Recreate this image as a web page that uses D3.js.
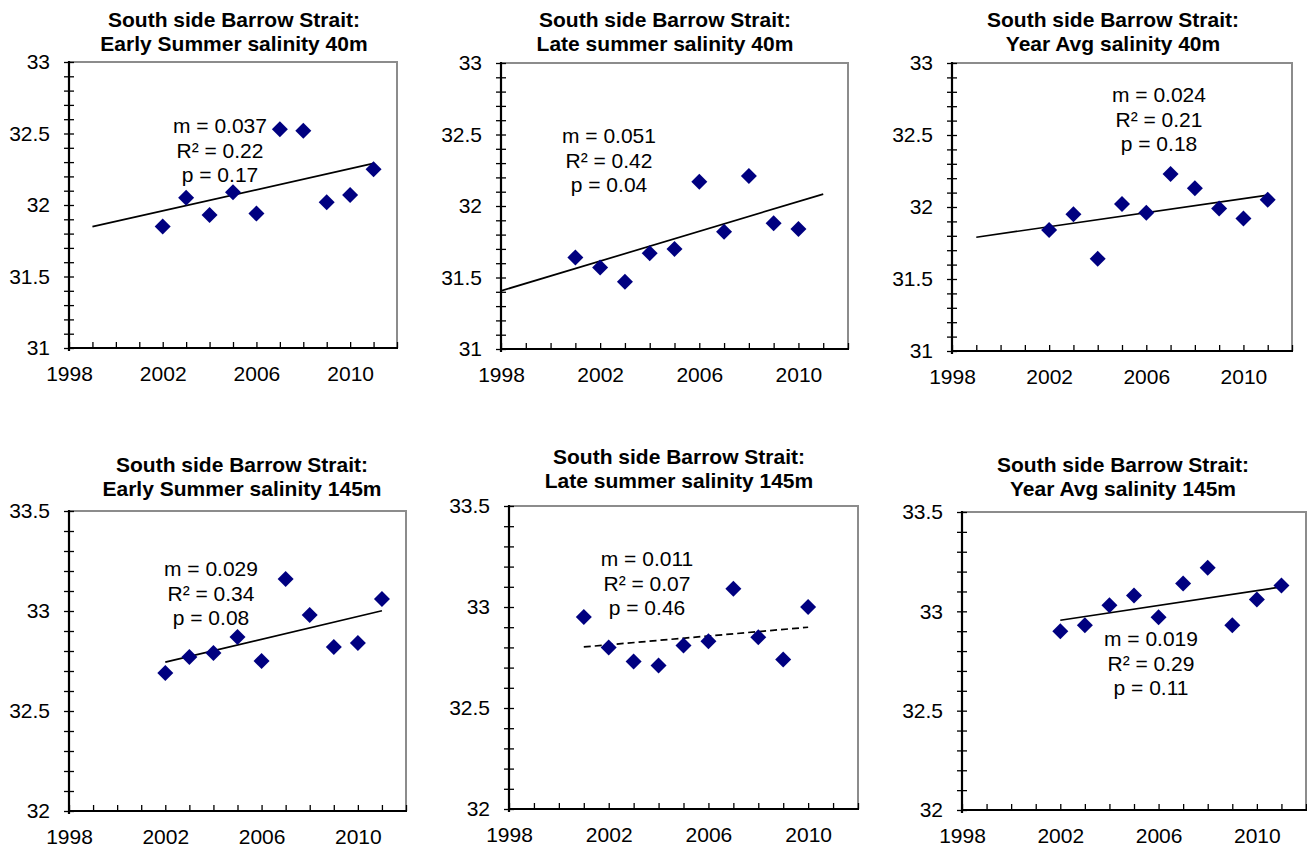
<!DOCTYPE html>
<html>
<head>
<meta charset="utf-8">
<script src="https://cdn.jsdelivr.net/npm/d3@7"></script>
<style>
  body { margin: 0; background: #fff; }
  svg { display: block; font-family: Arial, "Liberation Sans", sans-serif; }
</style>
</head>
<body>
<div id="chart"></div>
<script>
// data
const yearsA = [2002, 2003, 2004, 2005, 2006, 2007, 2008, 2009, 2010, 2011];
const yearsB = [2001, 2002, 2003, 2004, 2005, 2006, 2007, 2008, 2009, 2010];

const earlySummer40 = [31.85, 32.05, 31.93, 32.09, 31.94, 32.53, 32.52, 32.02, 32.07, 32.25];
const lateSummer40 = [31.64, 31.57, 31.47, 31.67, 31.70, 32.17, 31.82, 32.21, 31.88, 31.84];
const yearAvg40 = [31.84, 31.95, 31.64, 32.02, 31.96, 32.23, 32.13, 31.99, 31.92, 32.05];
const earlySummer145 = [32.69, 32.77, 32.79, 32.87, 32.75, 33.16, 32.98, 32.82, 32.84, 33.06];
const lateSummer145 = [32.95, 32.80, 32.73, 32.71, 32.81, 32.83, 33.09, 32.85, 32.74, 33.00];
const yearAvg145 = [32.90, 32.93, 33.03, 33.08, 32.97, 33.14, 33.22, 32.93, 33.06, 33.13];

// years over which each trend line is drawn
const trendSpans = [[1999, 2011], [1998, 2011], [1999, 2011], [2002, 2011], [2001, 2010], [2002, 2011]];

const titles = [
  ["South side Barrow Strait:", "Early Summer salinity 40m"],
  ["South side Barrow Strait:", "Late summer salinity 40m"],
  ["South side Barrow Strait:", "Year Avg salinity 40m"],
  ["South side Barrow Strait:", "Early Summer salinity 145m"],
  ["South side Barrow Strait:", "Late summer salinity 145m"],
  ["South side Barrow Strait:", "Year Avg salinity 145m"]
];
const statsText = [
  ["m = 0.037", "R² = 0.22", "p = 0.17"],
  ["m = 0.051", "R² = 0.42", "p = 0.04"],
  ["m = 0.024", "R² = 0.21", "p = 0.18"],
  ["m = 0.029", "R² = 0.34", "p = 0.08"],
  ["m = 0.011", "R² = 0.07", "p = 0.46"],
  ["m = 0.019", "R² = 0.29", "p = 0.11"]
];

const xDomain = [1998, 2012];
const xTicks = [1998, 2002, 2006, 2010];
const yDomain40 = [31, 33];
const yTicks40 = [31, 31.5, 32, 32.5, 33];
const yDomain145 = [32, 33.5];
const yTicks145 = [32, 32.5, 33, 33.5];

// panel boxes (left, top, right, bottom) + where the titles / stats sit
const panels = [
  { box: [69, 62, 397, 348], years: yearsA, vals: earlySummer40, yd: yDomain40, yt: yTicks40,
    titleX: 234, titleY: 27, statX: 220, statY: 133, dashed: false },
  { box: [501, 63, 848, 349], years: yearsB, vals: lateSummer40, yd: yDomain40, yt: yTicks40,
    titleX: 665, titleY: 27, statX: 609, statY: 143, dashed: false },
  { box: [952, 63, 1292, 351], years: yearsA, vals: yearAvg40, yd: yDomain40, yt: yTicks40,
    titleX: 1113, titleY: 27, statX: 1159, statY: 102, dashed: false },
  { box: [69, 511, 406, 811], years: yearsA, vals: earlySummer145, yd: yDomain145, yt: yTicks145,
    titleX: 242, titleY: 472, statX: 211, statY: 576, dashed: false },
  { box: [509, 506, 858, 809], years: yearsB, vals: lateSummer145, yd: yDomain145, yt: yTicks145,
    titleX: 679, titleY: 464, statX: 647, statY: 566, dashed: true },
  { box: [962, 512, 1306, 810], years: yearsA, vals: yearAvg145, yd: yDomain145, yt: yTicks145,
    titleX: 1123, titleY: 472, statX: 1151, statY: 646, dashed: false }
];

const svg = d3
  .select("#chart")
  .append("svg")
  .attr("width", 1307)
  .attr("height", 848);

svg.append("rect").attr("width", 1307).attr("height", 848).attr("fill", "#fff");

// least squares fit, used for the trend lines
function fit(xs, ys) {
  const mx = d3.mean(xs), my = d3.mean(ys);
  let sxy = 0, sxx = 0;
  xs.forEach(function (x, i) {
    sxy += (x - mx) * (ys[i] - my);
    sxx += (x - mx) * (x - mx);
  });
  const m = sxy / sxx;
  return function (x) { return my + m * (x - mx); };
}

function drawPanel(p, i) {
  const [l, t, r, b] = p.box;
  const x = d3.scaleLinear().domain(xDomain).range([l, r]);
  const y = d3.scaleLinear().domain(p.yd).range([b, t]);
  const g = svg.append("g");

  // grey frame top + right
  g.append("path")
    .attr("d", "M" + l + "," + t + "H" + r + "V" + b)
    .attr("fill", "none")
    .attr("stroke", "#8c8c8c")
    .attr("stroke-width", 2);

  // minor ticks y (cross the axis)
  const yMinor = d3.range(p.yd[0], p.yd[1] + 0.001, 0.1);
  g.append("g")
    .attr("transform", "translate(" + l + ",0)")
    .call(d3.axisLeft(y).tickValues(yMinor).tickFormat("").tickSizeOuter(0))
    .call(function (ax) {
      ax.select(".domain").remove();
      ax.selectAll(".tick line").attr("x1", 5).attr("x2", -5).attr("stroke-width", 1.3);
    });

  // minor ticks x (inside)
  const xMinor = d3.range(xDomain[0], xDomain[1] + 1, 1);
  g.append("g")
    .attr("transform", "translate(0," + b + ")")
    .call(d3.axisTop(x).tickValues(xMinor).tickFormat("").tickSize(6).tickSizeOuter(0))
    .call(function (ax) {
      ax.select(".domain").remove();
      ax.selectAll(".tick line").attr("stroke-width", 1.3);
    });

  // y axis labels
  g.append("g")
    .attr("transform", "translate(" + l + ",0)")
    .call(d3.axisLeft(y).tickValues(p.yt).tickSize(0).tickPadding(19).tickFormat(function (d) { return String(d); }))
    .call(function (ax) {
      ax.select(".domain").remove();
      ax.attr("font-family", null).attr("font-size", null);
      ax.selectAll("text").attr("font-size", 21).attr("fill", "#000");
    });

  // x axis labels
  g.append("g")
    .attr("transform", "translate(0," + b + ")")
    .call(d3.axisBottom(x).tickValues(xTicks).tickSize(0).tickPadding(18).tickFormat(d3.format("d")))
    .call(function (ax) {
      ax.select(".domain").remove();
      ax.attr("font-family", null).attr("font-size", null);
      ax.selectAll("text").attr("font-size", 21).attr("fill", "#000");
    });

  // black axis lines
  g.append("path")
    .attr("d", "M" + l + "," + (t - 1) + "V" + (b + 3) + "M" + (l - 1) + "," + b + "H" + (r + 1))
    .attr("fill", "none")
    .attr("stroke", "#000")
    .attr("stroke-width", 2.2);

  // title
  const title = g.append("text")
    .attr("text-anchor", "middle")
    .attr("font-weight", "bold")
    .attr("font-size", 21);
  titles[i].forEach(function (s, k) {
    title.append("tspan").attr("x", p.titleX).attr("y", p.titleY + k * 23.5).text(s);
  });

  // trend line
  const f = fit(p.years, p.vals);
  g.append("path")
    .datum(trendSpans[i])
    .attr("fill", "none")
    .attr("stroke", "#000")
    .attr("stroke-width", 1.7)
    .attr("stroke-dasharray", p.dashed ? "7,4" : null)
    .attr("d", d3.line().x(function (d) { return x(d); }).y(function (d) { return y(f(d)); }));

  // points
  g.selectAll(".pt")
    .data(p.vals)
    .enter()
    .append("path")
    .attr("class", "pt")
    .attr("d", d3.symbol(d3.symbolSquare, 128)())
    .attr("transform", function (d, k) {
      return "translate(" + x(p.years[k]) + "," + y(d) + ") rotate(45)";
    })
    .attr("fill", "#000080");

  // stats
  const st = g.append("text")
    .attr("text-anchor", "middle")
    .attr("font-size", 21)
    .attr("fill", "#000");
  statsText[i].forEach(function (s, k) {
    st.append("tspan").attr("x", p.statX).attr("y", p.statY + k * 24.5).text(s);
  });
}

panels.forEach(drawPanel);
</script>
</body>
</html>
